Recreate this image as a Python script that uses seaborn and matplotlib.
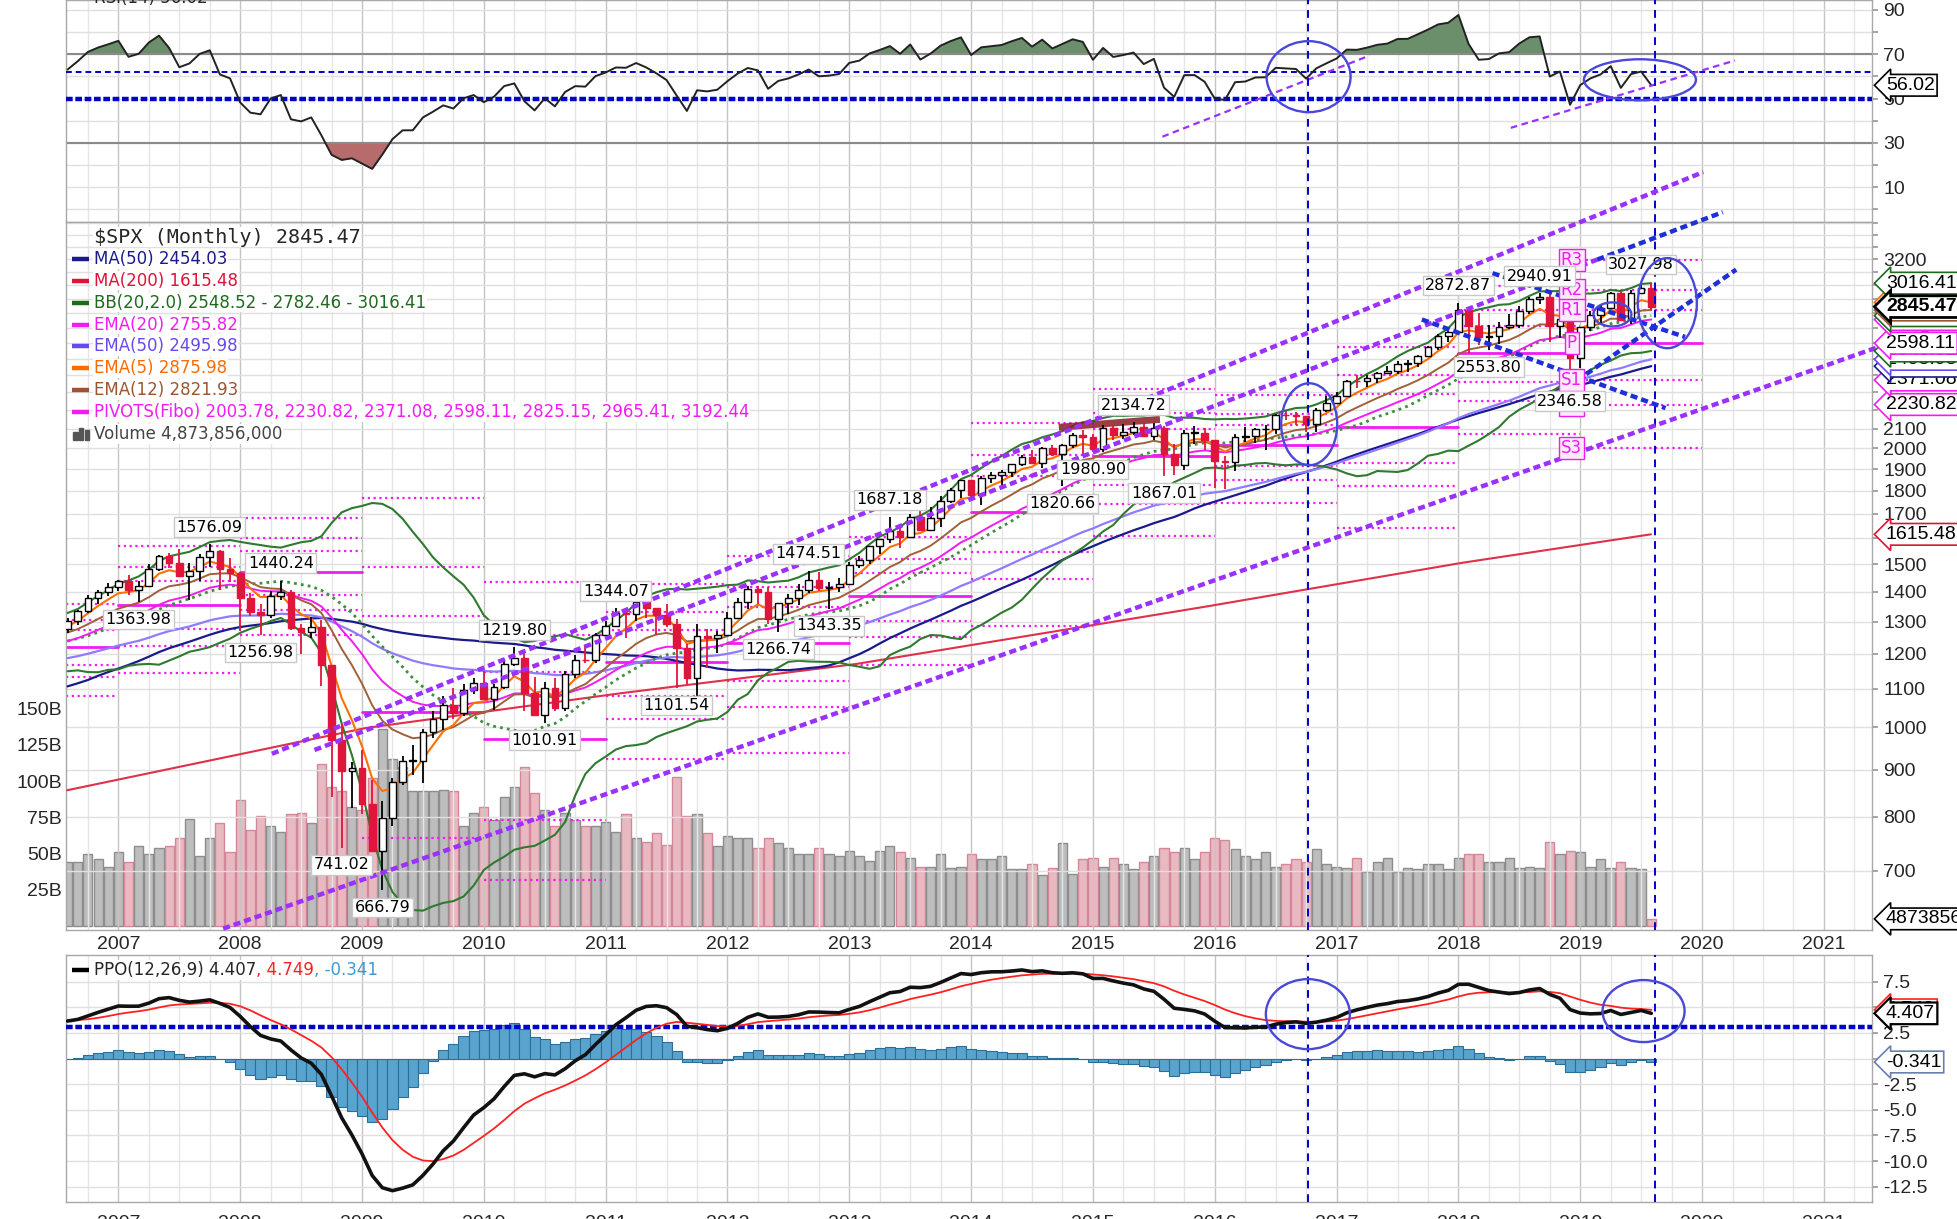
import matplotlib

matplotlib.use("Agg")
import matplotlib.pyplot as plt
import numpy as np
import pandas as pd
import seaborn as sns
from matplotlib.patches import Ellipse, Rectangle
from matplotlib.ticker import NullLocator

# monthly closes before the first visible bar (Jan 2001 - Jul 2006), used to warm up the indicators
history_close = [
    1366.01, 1239.94, 1160.33, 1249.46, 1255.82, 1224.42, 1211.23, 1133.58, 1040.94, 1059.78, 1139.45, 1148.08,
    1130.20, 1106.73, 1147.39, 1076.92, 1067.14, 989.82, 911.62, 916.07, 815.28, 885.76, 936.31, 879.82,
    855.70, 841.15, 848.18, 916.92, 963.59, 974.50, 990.31, 1008.01, 995.97, 1050.71, 1058.20, 1111.92,
    1131.13, 1144.94, 1126.21, 1107.30, 1120.68, 1140.84, 1101.72, 1104.24, 1114.58, 1130.20, 1173.82, 1211.92,
    1181.27, 1203.60, 1180.59, 1156.85, 1191.50, 1191.33, 1234.18, 1220.33, 1228.81, 1207.01, 1249.48, 1248.29,
    1280.08, 1280.66, 1294.83, 1310.61, 1270.09, 1270.20, 1276.66,
]

# visible monthly bars, Aug 2006 - Aug 2019
close = [
    1303.82, 1335.85, 1377.94, 1400.63, 1418.30,
    1438.24, 1406.82, 1420.86, 1482.37, 1530.62, 1503.35, 1455.27, 1473.99, 1526.75, 1549.38, 1481.14, 1468.36,
    1378.55, 1330.63, 1322.70, 1385.59, 1400.38, 1280.00, 1267.38, 1282.83, 1166.36, 968.75, 896.24, 903.25,
    825.88, 735.09, 797.87, 872.81, 919.14, 919.32, 987.48, 1020.62, 1057.08, 1036.19, 1095.63, 1115.10,
    1073.87, 1104.49, 1169.43, 1186.69, 1089.41, 1030.71, 1101.60, 1049.33, 1141.20, 1183.26, 1180.55, 1257.64,
    1286.12, 1327.22, 1325.83, 1363.61, 1345.20, 1320.64, 1292.28, 1218.89, 1131.42, 1253.30, 1246.96, 1257.60,
    1312.41, 1365.68, 1408.47, 1397.91, 1310.33, 1362.16, 1379.32, 1406.58, 1440.67, 1412.16, 1416.18, 1426.19,
    1498.11, 1514.68, 1569.19, 1597.57, 1630.74, 1606.28, 1685.73, 1632.97, 1681.55, 1756.54, 1805.81, 1848.36,
    1782.59, 1859.45, 1872.34, 1883.95, 1923.57, 1960.23, 1930.67, 2003.37, 1972.29, 2018.05, 2067.56, 2058.90,
    1994.99, 2104.50, 2067.89, 2085.51, 2107.39, 2063.11, 2103.84, 1972.18, 1920.03, 2079.36, 2080.41, 2043.94,
    1940.24, 1932.23, 2059.74, 2065.30, 2096.95, 2098.86, 2173.60, 2170.95, 2168.27, 2126.15, 2198.81, 2238.83,
    2278.87, 2363.64, 2362.72, 2384.20, 2411.80, 2423.41, 2470.30, 2471.65, 2519.36, 2575.26, 2647.58, 2673.61,
    2823.81, 2713.83, 2640.87, 2648.05, 2705.27, 2718.37, 2816.29, 2901.52, 2913.98, 2711.74, 2760.17, 2506.85,
    2704.10, 2784.49, 2834.40, 2945.83, 2752.06, 2941.76, 2980.38, 2845.47,
]
high = [
    1311, 1340, 1389, 1407, 1431.81,
    1441, 1461, 1439, 1499, 1535, 1541, 1556, 1503, 1539, 1576.09, 1554, 1523,
    1471, 1396, 1359, 1404, 1440.24, 1405, 1292, 1314, 1304, 1167, 1007, 918,
    944, 876, 832, 882, 930, 956, 996, 1040, 1081, 1102, 1113, 1130,
    1150, 1113, 1181, 1219.80, 1206, 1132, 1120, 1129, 1149, 1196, 1228, 1263,
    1303, 1344.07, 1333, 1366, 1370.58, 1346, 1357, 1308, 1230, 1293, 1278, 1270,
    1333, 1378, 1420, 1422, 1416, 1363, 1392, 1427, 1474.51, 1470, 1434, 1448,
    1509, 1531, 1570, 1598, 1687.18, 1654, 1698, 1710, 1730, 1776, 1814, 1849,
    1851, 1867, 1884, 1897, 1925, 1969, 1992, 2006, 2019, 2020, 2076, 2094,
    2072, 2120, 2118, 2126, 2134.72, 2130, 2133, 2113, 2021, 2094, 2117, 2105,
    2044, 1963, 2073, 2112, 2103, 2120, 2178, 2194, 2187, 2170, 2214, 2278,
    2301, 2371, 2401, 2399, 2418, 2454, 2484, 2491, 2520, 2582, 2658, 2695,
    2872.87, 2836, 2802, 2718, 2742, 2792, 2848, 2916, 2940.91, 2940, 2816, 2801,
    2708, 2813, 2860, 2949, 2955, 2965, 3027.98, 3014,
]
low = [
    1264, 1290, 1327, 1360, 1385,
    1403, 1389, 1363.98, 1416, 1476, 1484, 1453, 1371, 1439, 1490, 1407, 1435,
    1271, 1317, 1256.98, 1313, 1373, 1272, 1200, 1248, 1107, 840, 741.02, 818,
    805, 735, 666.79, 783, 866, 888, 870, 973, 992, 1020, 1029, 1085,
    1071, 1045, 1101, 1163, 1040, 1029, 1010.91, 1040, 1040, 1131, 1173, 1174,
    1257, 1284, 1249, 1303, 1312, 1259, 1282, 1101.54, 1114, 1074.77, 1159, 1202,
    1257, 1312, 1341, 1358, 1292, 1266.74, 1325, 1354, 1397, 1403, 1343.35, 1398,
    1426, 1485, 1501, 1537, 1582, 1560, 1605, 1627, 1627, 1646, 1746, 1768,
    1771, 1738, 1834, 1815, 1863, 1915, 1930, 1905, 1965, 1820.66, 2001, 1973,
    1980.90, 1981, 2040, 2049, 2067, 2056, 2044, 1867.01, 1872, 1894, 2020, 1993,
    1812, 1810, 1892, 2034, 2025, 1992, 2075, 2147, 2119, 2084, 2084, 2187,
    2234, 2272, 2323, 2328, 2353, 2405, 2408, 2417, 2446, 2515, 2557, 2605,
    2670, 2533, 2586, 2553.80, 2595, 2691, 2698, 2796, 2864, 2604, 2631, 2346.58,
    2444, 2681, 2722, 2830, 2751, 2728, 2940, 2822,
]
volume_b = [
    44, 44, 50, 46, 41,
    51, 44, 55, 50, 54, 55, 61, 74, 48, 61, 71, 51,
    87, 66, 76, 69, 65, 77, 78, 71, 112, 96, 93, 82,
    80, 102, 136, 115, 110, 93, 93, 93, 94, 93, 69, 78,
    82, 73, 89, 96, 110, 92, 80, 69, 78, 73, 69, 69,
    72, 65, 77, 61, 58, 64, 56, 103, 76, 77, 64, 55,
    62, 61, 61, 54, 61, 57, 54, 50, 50, 54, 50, 48,
    52, 48, 45, 52, 55, 51, 47, 41, 41, 50, 40, 41,
    50, 46, 46, 48, 39, 39, 43, 35, 40, 57, 36, 46,
    47, 41, 47, 43, 39, 44, 48, 54, 51, 54, 46, 51,
    61, 59, 53, 48, 46, 51, 41, 43, 46, 44, 53, 43,
    41, 40, 47, 37, 44, 47, 37, 40, 39, 43, 43, 39,
    47, 50, 50, 44, 44, 47, 40, 41, 40, 58, 50, 52,
    51, 41, 46, 40, 44, 40, 39, 4.873856,
]

# yearly high / low / close of the years before the visible range (for the yearly pivots)
prior_years = [2005, 2006]
prior_high = [1275.80, 1431.81]
prior_low = [1136.15, 1219.29]
prior_close = [1248.29, 1418.30]

# 200-month MA (needs more history than is typed above)
ma200_time = [2006.58, 2009.03, 2011.12, 2013.05, 2015.93, 2018.03, 2019.58]
ma200_value = [855, 998, 1088, 1170, 1350, 1505, 1615.48]

# swing-point labels
swing_month = ["2007-03", "2007-10", "2008-03", "2008-05", "2008-11", "2009-03", "2010-04", "2010-07",
               "2011-02", "2011-08", "2012-06", "2012-09", "2012-11", "2013-05", "2014-10", "2015-01",
               "2015-05", "2015-08", "2018-01", "2018-04", "2018-09", "2018-12", "2019-07"]
swing_value = [1363.98, 1576.09, 1256.98, 1440.24, 741.02, 666.79, 1219.80, 1010.91,
               1344.07, 1101.54, 1266.74, 1474.51, 1343.35, 1687.18, 1820.66, 1980.90,
               2134.72, 1867.01, 2872.87, 2553.80, 2940.91, 2346.58, 3027.98]
swing_side = ["low", "high", "low", "high", "low", "low", "high", "low",
              "high", "low", "low", "high", "low", "high", "low", "low",
              "high", "low", "high", "low", "high", "low", "high"]

# hand-drawn trend lines on the price panel (date, price)
trend_t0 = [2008.26, 2008.61, 2007.86, 2019.14, 2017.70, 2018.28, 2018.90]
trend_p0 = [936, 945, 606, 3199, 2756, 3092, 2331]
trend_t1 = [2020.01, 2019.14, 2022.09, 2020.17, 2019.70, 2019.86, 2020.28]
trend_p1 = [3976, 3199, 2756, 3599, 2211, 2639, 3120]
trend_kind = ["purple", "purple", "purple", "blue", "blue", "blue", "blue"]
resist_t = [2014.72, 2015.55]
resist_p = [2108, 2150]

# hand-drawn trend lines on the RSI panel (date, RSI)
rsi_trend_t0 = [2015.57, 2018.43]
rsi_trend_v0 = [32.8, 36.8]
rsi_trend_t1 = [2017.27, 2020.27]
rsi_trend_v1 = [69.4, 67.2]

marker_dates = [2016.765, 2019.615]

legend_rows = [
    ("MA(50) 2454.03", "#1a1a8c"),
    ("MA(200) 1615.48", "#dc1437"),
    ("BB(20,2.0) 2548.52 - 2782.46 - 3016.41", "#1e6b1e"),
    ("EMA(20) 2755.82", "#f21cf2"),
    ("EMA(50) 2495.98", "#6a48f0"),
    ("EMA(5) 2875.98", "#ff6a00"),
    ("EMA(12) 2821.93", "#9b5530"),
    ("PIVOTS(Fibo) 2003.78, 2230.82, 2371.08, 2598.11, 2825.15, 2965.41, 3192.44", "#f21cf2"),
]
price_tags = [
    (1615.48, "1615.48", "#dc1437"), (2230.82, "2230.82", "#f21cf2"), (2371.08, "2371.08", "#f21cf2"),
    (2454.03, "2454.03", "#1a1a8c"), (2495.98, "2495.98", "#6a48f0"), (2548.52, "2548.52", "#1e6b1e"),
    (2598.11, "2598.11", "#f21cf2"), (2755.82, "2755.82", "#f21cf2"), (2782.46, "2782.46", "#1e6b1e"),
    (2821.93, "2821.93", "#9b5530"), (2875.98, "2875.98", "#ff6a00"), (3016.41, "3016.41", "#1e6b1e"),
]

# ---- indicators ----
months = pd.period_range("2001-01", "2019-08", freq="M")
all_close = pd.Series(history_close + close, index=months, dtype=float)
n_hist = len(history_close)
vis = slice(n_hist, None)
t = (np.asarray(months.year) + (np.asarray(months.month) - 1) / 12.0)[vis]
years_vis = np.asarray(months.year)[vis]

c = np.asarray(close, dtype=float)
o = all_close.shift(1).values[vis]
h = np.asarray(high, dtype=float)
lo = np.asarray(low, dtype=float)
up = c >= o


def ema(n):
    return all_close.ewm(span=n, adjust=False).mean().values[vis]


ma50 = all_close.rolling(50).mean().values[vis]
bb_mid = all_close.rolling(20).mean()
bb_std = all_close.rolling(20).std(ddof=0)
bb_up = (bb_mid + 2 * bb_std).values[vis]
bb_dn = (bb_mid - 2 * bb_std).values[vis]
bb_mid = bb_mid.values[vis]

delta = all_close.diff()
gain = delta.clip(lower=0).ewm(alpha=1 / 14, adjust=False).mean()
loss = (-delta).clip(lower=0).ewm(alpha=1 / 14, adjust=False).mean()
rsi = (100 - 100 / (1 + gain / loss)).values[vis]

e12 = all_close.ewm(span=12, adjust=False).mean()
e26 = all_close.ewm(span=26, adjust=False).mean()
ppo_all = (e12 - e26) / e26 * 100
sig_all = ppo_all.ewm(span=9, adjust=False).mean()
ppo = ppo_all.values[vis]
ppo_sig = sig_all.values[vis]
ppo_hist = ppo - ppo_sig

# yearly fibonacci pivots: levels for year Y come from year Y-1
yearly = pd.DataFrame({"year": years_vis, "high": h, "low": lo, "close": c}).groupby("year").agg(
    high=("high", "max"), low=("low", "min"), close=("close", "last"))
for yr, hh, ll, cc in zip(prior_years, prior_high, prior_low, prior_close):
    yearly.loc[yr] = [hh, ll, cc]
yearly = yearly.sort_index()

# ---- figure ----
sns.set_theme(style="white")
plt.rcParams["font.family"] = ["Liberation Sans", "DejaVu Sans"]
LEG_FONT = "DejaVu Sans"

FIG_W, FIG_H = 1957, 1219
fig = plt.figure(figsize=(FIG_W / 100, FIG_H / 100), dpi=100)
fig.patch.set_facecolor("white")
LEFT, WIDTH = 66 / FIG_W, 1806 / FIG_W
X_LEFT, X_RIGHT = 2006.57, 2021.395


def panel(top_px, bottom_px):
    return fig.add_axes([LEFT, 1 - bottom_px / FIG_H, WIDTH, (bottom_px - top_px) / FIG_H])


ax_rsi = panel(0, 222)
ax_main = panel(222, 930)
ax_vol = ax_main.twinx()
ax_ppo = panel(955, 1202)

year_ticks = list(range(2007, 2022))
quarter_ticks = [y + q / 4 for y in range(2006, 2022) for q in range(4)]
for ax in (ax_rsi, ax_main, ax_ppo):
    ax.set_xlim(X_LEFT, X_RIGHT)
    ax.set_xticks(year_ticks, [str(y) for y in year_ticks])
    ax.set_xticks(quarter_ticks, minor=True)
    ax.grid(axis="x", which="major", color="#c4c4c4", lw=1.0)
    ax.grid(axis="x", which="minor", color="#e6e6e6", lw=1.0)
    ax.grid(axis="y", which="major", color="#e0e0e0", lw=1.0)
    ax.set_axisbelow(True)
    for s in ax.spines.values():
        s.set_color("#a8a8a8")
        s.set_linewidth(1.0)
    ax.tick_params(axis="x", which="both", length=0, labelsize=14, pad=4)
    ax.tick_params(axis="y", which="both", length=4, color="#9a9a9a", labelsize=14, pad=4)
    ax.yaxis.tick_right()
    for d in marker_dates:
        ax.axvline(d, color="#0000cc", lw=1.4, ls=(0, (4, 3)), zorder=6)
ax_rsi.tick_params(axis="x", labelbottom=False)
ax_ppo.tick_params(axis="x", pad=9)

# ---- RSI panel ----
ax_rsi.set_ylim(-5.7, 94.5)
rsi_ticks = list(range(0, 100, 10))
ax_rsi.set_yticks(rsi_ticks, [str(v) if v in (10, 30, 50, 70, 90) else "" for v in rsi_ticks])
ax_rsi.fill_between(t, rsi, 70, where=rsi >= 70, interpolate=True, color="#6b8f6b", lw=0, zorder=2)
ax_rsi.fill_between(t, rsi, 30, where=rsi <= 30, interpolate=True, color="#b86b6b", lw=0, zorder=2)
ax_rsi.axhline(70, color="#8a8a8a", lw=1.5, zorder=2)
ax_rsi.axhline(30, color="#8a8a8a", lw=1.5, zorder=2)
ax_rsi.axhline(62, color="#0000cc", lw=1.4, ls=(0, (3, 2)), zorder=3)
ax_rsi.axhline(50, color="#0000cc", lw=3.2, ls=(0, (1.5, 0.6)), zorder=3)
sns.lineplot(x=t, y=rsi, ax=ax_rsi, color="#222222", lw=1.4, zorder=4)
for t0, v0, t1, v1 in zip(rsi_trend_t0, rsi_trend_v0, rsi_trend_t1, rsi_trend_v1):
    ax_rsi.plot([t0, t1], [v0, v1], color="#9b30ff", lw=1.6, ls=(0, (3, 2)), zorder=5)
fig.text(94 / FIG_W, 1 - 3 / FIG_H, "RSI(14) 56.02", fontsize=12, va="baseline", family=LEG_FONT)

# ---- price panel ----
ax_main.set_yscale("log")
ax_main.set_ylim(604, 3512)
price_ticks = list(range(700, 3600, 100))
# labels between 2200 and 3100 sit behind the value tags on the original chart
ax_main.set_yticks(price_ticks, [str(v) if (v <= 2100 or v == 3200) and v != 1600 else ""
                                 for v in price_ticks])
ax_main.yaxis.set_minor_locator(NullLocator())
ax_main.yaxis.tick_right()

ax_vol.set_ylim(-2.8, 486)
ax_vol.yaxis.tick_left()
ax_vol.set_yticks([25, 50, 75, 100, 125, 150], ["25B", "50B", "75B", "100B", "125B", "150B"])
ax_vol.tick_params(axis="y", length=0, labelsize=14, pad=3)
ax_vol.grid(False)
for s in ax_vol.spines.values():
    s.set_visible(False)
ax_vol.set_zorder(1)
ax_main.set_zorder(2)
ax_main.patch.set_visible(False)
ax_vol.patch.set_visible(True)
ax_vol.patch.set_facecolor("white")

vol_face = np.where(up, "#bdbdbd", "#e9b9c1")
vol_edge = np.where(up, "#8d8d8d", "#d4879a")
ax_vol.bar(t, volume_b, width=0.9 / 12, color=vol_face, edgecolor=vol_edge, lw=1.0, zorder=2)

# pivots
for yr in range(2006, 2020):
    hh, ll, cc = yearly.loc[yr - 1, ["high", "low", "close"]]
    p = (hh + ll + cc) / 3
    rng = hh - ll
    x0, x1 = max(yr, X_LEFT), yr + 1
    for k in (0.382, 0.618, 1.0):
        for lvl in (p + k * rng, p - k * rng):
            ax_main.plot([x0, x1], [lvl, lvl], color="#f21cf2", lw=1.6, ls=(0, (1, 1.6)), zorder=2)
    ax_main.plot([x0, x1], [p, p], color="#f21cf2", lw=2.0, zorder=2)

sns.lineplot(x=ma200_time, y=ma200_value, ax=ax_main, color="#e0304a", lw=1.5, zorder=3)
sns.lineplot(x=t, y=ma50, ax=ax_main, color="#1a1a8c", lw=1.6, zorder=3)
sns.lineplot(x=t, y=ema(50), ax=ax_main, color="#8f7bff", lw=1.6, zorder=3)
sns.lineplot(x=t, y=bb_up, ax=ax_main, color="#2f7a2f", lw=1.5, zorder=3)
sns.lineplot(x=t, y=bb_dn, ax=ax_main, color="#2f7a2f", lw=1.5, zorder=3)
sns.lineplot(x=t, y=bb_mid, ax=ax_main, color="#3f8f3f", lw=2.0, ls=(0, (1, 1.5)), zorder=3)
sns.lineplot(x=t, y=ema(20), ax=ax_main, color="#f21cf2", lw=1.4, zorder=3)
sns.lineplot(x=t, y=ema(12), ax=ax_main, color="#a0603a", lw=1.4, zorder=3)
sns.lineplot(x=t, y=ema(5), ax=ax_main, color="#ff7000", lw=1.5, zorder=3)
ax_main.plot(resist_t, resist_p, color="#8b1c24", lw=5, alpha=0.85, zorder=3, solid_capstyle="butt")

# candles
body_lo = np.minimum(o, c)
body_h = np.maximum(np.abs(c - o), 0.002 * c)
wick_col = np.where(up, "#000000", "#e0153c")
ax_main.vlines(t, lo, h, colors=wick_col, lw=1.3, zorder=4)
ax_main.bar(t, body_h, bottom=body_lo, width=0.055, color=np.where(up, "white", "#e0153c"),
            edgecolor=np.where(up, "black", "#e0153c"), lw=1.0, zorder=5)

for t0, p0, t1, p1, kind in zip(trend_t0, trend_p0, trend_t1, trend_p1, trend_kind):
    col = "#9b30ff" if kind == "purple" else "#1f2fd8"
    ax_main.plot([t0, t1], [p0, p1], color=col, lw=3.2, ls=(0, (1.6, 0.9)), zorder=7, clip_on=False)

# pivot labels for the latest year
hh, ll, cc = yearly.loc[2018, ["high", "low", "close"]]
p = (hh + ll + cc) / 3
rng = hh - ll
for name, lvl in [("R3", p + rng), ("R2", p + 0.618 * rng), ("R1", p + 0.382 * rng), ("P", p),
                  ("S1", p - 0.382 * rng), ("S2", p - 0.618 * rng), ("S3", p - rng)]:
    ax_main.text(2018.93, lvl, name, ha="center", va="center", fontsize=12, family=LEG_FONT,
                 color="#f21cf2", zorder=7,
                 bbox=dict(boxstyle="square,pad=0.12", fc="#fbeafb", ec="#f21cf2", lw=1))

# swing labels
for m, v, side in zip(swing_month, swing_value, swing_side):
    yy, mm = int(m[:4]), int(m[5:])
    tt = yy + (mm - 1) / 12
    dy = 7 if side == "high" else -7
    ax_main.annotate(f"{v:.2f}", xy=(tt, v), xytext=(0, dy), textcoords="offset points",
                     ha="center", va="bottom" if side == "high" else "top", fontsize=11.5,
                     family=LEG_FONT, color="black", zorder=8,
                     bbox=dict(boxstyle="square,pad=0.15", fc="white", ec="#c8c8c8", lw=1))

# legend block
row0, step = 0.9788, 0.0309
ax_main.text(0.0155, row0, "$SPX (Monthly) 2845.47", transform=ax_main.transAxes, fontsize=14.5,
             family="DejaVu Sans Mono", va="center", ha="left", zorder=9,
             bbox=dict(fc="white", ec="none", pad=0.5))
for i, (label, col) in enumerate(legend_rows, start=1):
    y = row0 - i * step
    ax_main.plot([0.0035, 0.0128], [y, y], transform=ax_main.transAxes, color=col, lw=3.2,
                 solid_capstyle="butt", zorder=9)
    ax_main.text(0.0155, y, label, transform=ax_main.transAxes, fontsize=12, family=LEG_FONT,
                 color=col, va="center", ha="left", zorder=9, bbox=dict(fc="white", ec="none", pad=0.5))
y = row0 - 9 * step
for k, hb in enumerate([0.012, 0.018, 0.014]):
    ax_main.add_patch(Rectangle((0.0040 + k * 0.0032, y - 0.009), 0.0024, hb, transform=ax_main.transAxes,
                                color="#555555", zorder=9))
ax_main.text(0.0155, y, "Volume 4,873,856,000", transform=ax_main.transAxes, fontsize=12, family=LEG_FONT,
             color="#444444", va="center", ha="left", zorder=9, bbox=dict(fc="white", ec="none", pad=0.5))


def tag(ax, value, text, edge, trans=None, weight="normal", lw=1.2):
    ax.annotate(text, xy=(1.0, value), xycoords=trans or ax.get_yaxis_transform(), xytext=(10, 0),
                textcoords="offset points", ha="left", va="center", fontsize=14, fontweight=weight,
                color="black", annotation_clip=False, zorder=10,
                bbox=dict(boxstyle="larrow,pad=0.12", fc="white", ec=edge, lw=lw))


for v, txt, col in price_tags:
    tag(ax_main, v, txt, col)
tag(ax_main, 2845.47, "2845.47", "black", weight="bold", lw=2)
tag(ax_vol, 4.873856, "4873856", "black")
tag(ax_rsi, 56.02, "56.02", "black")

# ---- PPO panel ----
ax_ppo.set_ylim(-14.0, 10.1)
ppo_ticks = [-12.5, -10.0, -7.5, -5.0, -2.5, 0.0, 2.5, 5.0, 7.5]
ax_ppo.set_yticks(ppo_ticks, ["-12.5", "-10.0", "-7.5", "-5.0", "-2.5", "", "2.5", "", "7.5"])
ax_ppo.bar(t, ppo_hist, width=1 / 12, color="#58a4cf", edgecolor="#2c6e95", lw=0.8, zorder=2)
ax_ppo.axhline(3.05, color="#0000cc", lw=3.2, ls=(0, (1.5, 0.6)), zorder=3)
sns.lineplot(x=t, y=ppo_sig, ax=ax_ppo, color="#ff2020", lw=1.3, zorder=4)
sns.lineplot(x=t, y=ppo, ax=ax_ppo, color="#111111", lw=2.6, zorder=5)
ax_ppo.plot([0.0035, 0.0128], [0.939, 0.939], transform=ax_ppo.transAxes, color="black", lw=3.2,
            solid_capstyle="butt", zorder=9)
t1 = ax_ppo.text(0.0155, 0.939, "PPO(12,26,9) 4.407", transform=ax_ppo.transAxes, fontsize=12,
                 family=LEG_FONT, va="center", ha="left", zorder=9, bbox=dict(fc="white", ec="none", pad=0.5))
t2 = ax_ppo.annotate(", 4.749", xy=(1, 0), xycoords=t1, va="bottom", ha="left", fontsize=12,
                     family=LEG_FONT, color="#ff2020", zorder=9)
ax_ppo.annotate(", -0.341", xy=(1, 0), xycoords=t2, va="bottom", ha="left", fontsize=12,
                family=LEG_FONT, color="#3a9ad9", zorder=9)
tag(ax_ppo, 4.749, "4.749", "#ff2020")
tag(ax_ppo, 4.407, "4.407", "black", lw=1.6)
tag(ax_ppo, -0.341, "-0.341", "#6a7fb0")

for ax in (ax_rsi, ax_main, ax_vol, ax_ppo):
    ax.set_xlabel("")
    ax.set_ylabel("")
for ax in (ax_rsi, ax_main, ax_ppo):
    ax.set_xlim(X_LEFT, X_RIGHT)


# ---- circled areas ----
def ring(ax, tt, v, w_px, h_px):
    x, y = ax.transData.transform((tt, v))
    fx, fy = fig.transFigure.inverted().transform((x, y))
    fig.add_artist(Ellipse((fx, fy), w_px / FIG_W, h_px / FIG_H, transform=fig.transFigure,
                           fill=False, ec="#4a48d8", lw=1.7, zorder=5))


ring(ax_rsi, 2016.77, 59.9, 84, 71)
ring(ax_rsi, 2019.49, 58.5, 112, 41)
ring(ax_main, 2016.775, 2124, 56, 82)
ring(ax_main, 2019.715, 2870, 59, 90)
ring(ax_main, 2019.264, 2791, 38, 24)
ring(ax_ppo, 2016.764, 4.33, 84, 70)
ring(ax_ppo, 2019.52, 4.63, 82, 62)

fig.savefig("out.png", dpi=100, facecolor="white")
